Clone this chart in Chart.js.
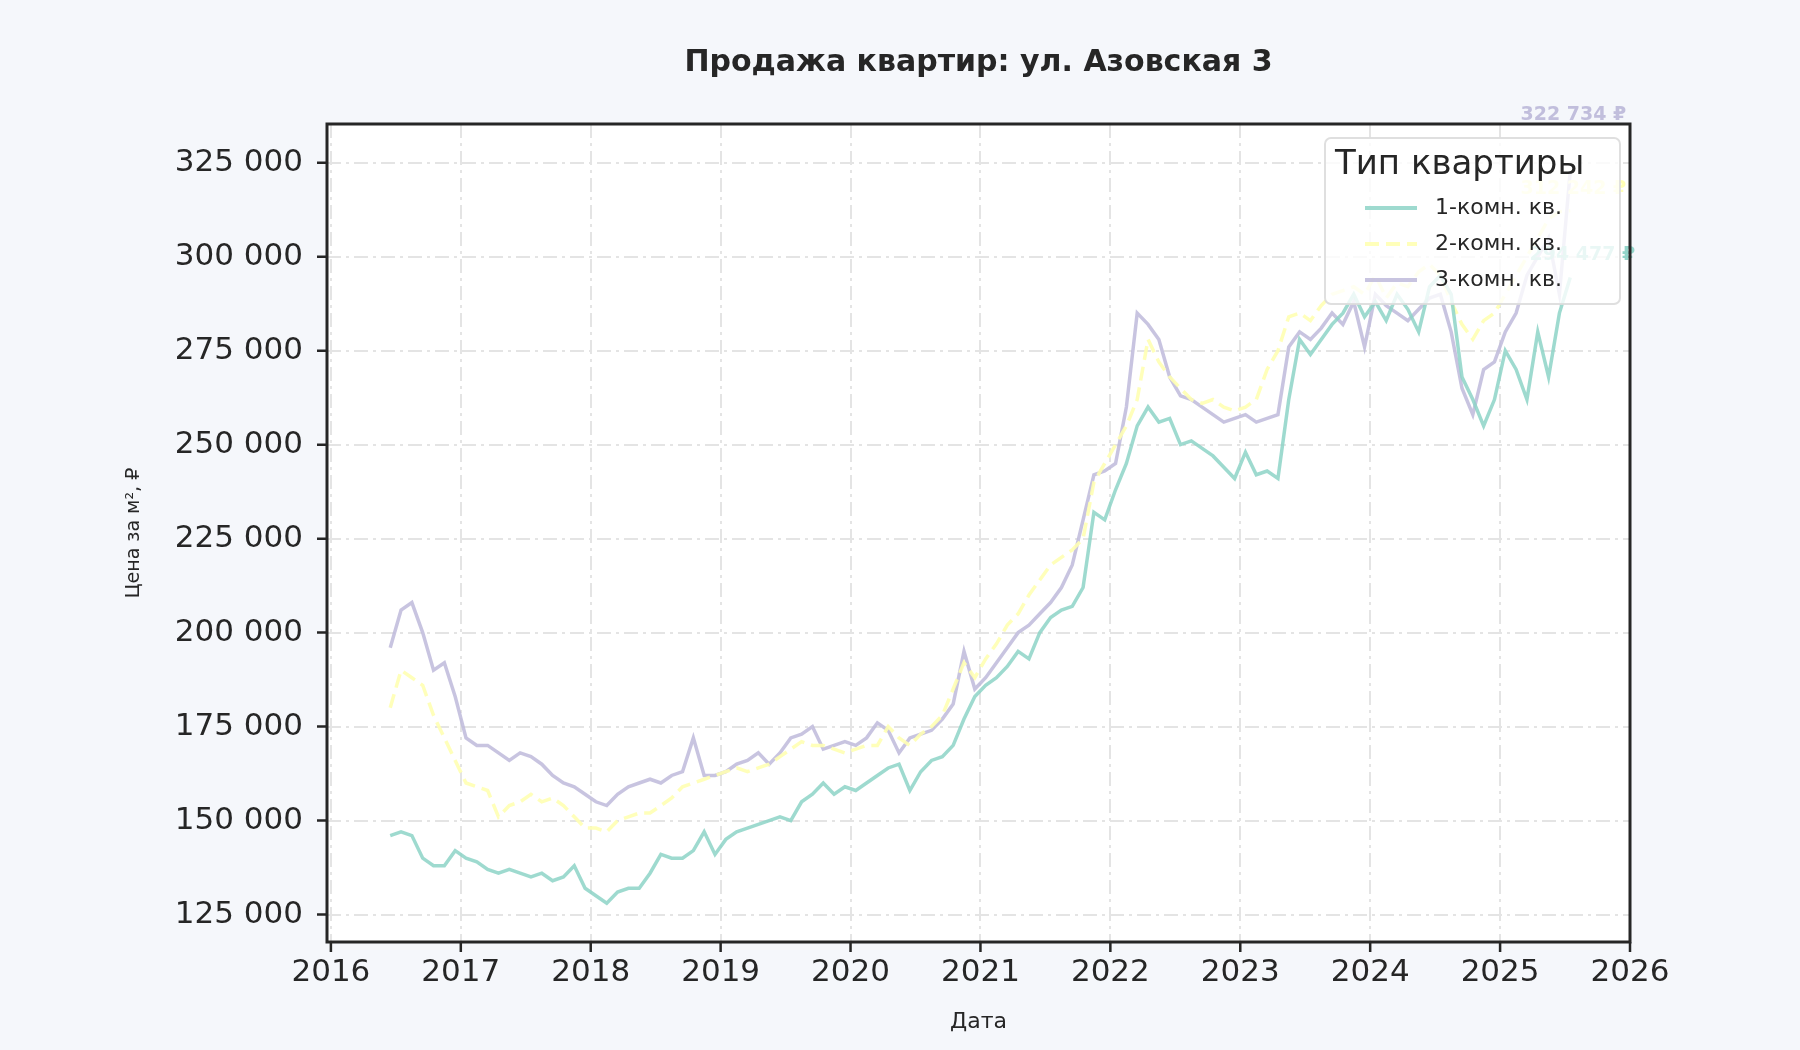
<!DOCTYPE html>
<html><head><meta charset="utf-8">
<script src="https://cdn.jsdelivr.net/npm/chart.js@4"></script>
<style>html,body{margin:0;background:#f5f7fb}#w{width:1800px;height:1050px}</style>
</head><body><div id="w"><canvas id="c"></canvas></div>
<script>
const startYear = 2016, startMonth = 6;
const seriesNames = ['1-комн. кв.', '2-комн. кв.', '3-комн. кв.'];
const room1 = [146,147,146,140,138,138,142,
140,139,137,136,137,136,135,136,134,135,138,132,
130,128,131,132,132,136,141,140,140,142,147,141,
145,147,148,149,150,151,150,155,157,160,157,159,
158,160,162,164,165,158,163,166,167,170,177,183,
186,188,191,195,193,200,204,206,207,212,232,230,
238,245,255,260,256,257,250,251,249,247,244,241,
248,242,243,241,262,278,274,278,282,285,290,284,
288,283,290,286,280,292,295,290,268,262,255,262,
275,270,262,280,268,285,294.477];
const room2 = [180,190,188,186,178,172,166,
160,159,158,151,154,155,157,155,156,154,151,148,
148,147,150,151,152,152,154,156,159,160,161,162,
163,164,163,164,165,167,169,171,170,170,169,168,
169,170,170,175,172,170,173,175,178,185,192,188,
193,197,202,205,210,214,218,220,222,225,240,245,
250,255,262,278,272,268,265,262,261,262,260,259,
260,262,270,275,284,285,283,287,290,291,292,290,
295,289,293,292,296,298,295,288,282,278,283,285,
290,295,300,305,310,312,312.242];
const room3 = [196,206,208,200,190,192,183,
172,170,170,168,166,168,167,165,162,160,159,157,
155,154,157,159,160,161,160,162,163,172,162,162,
163,165,166,168,165,168,172,173,175,169,170,171,
170,172,176,174,168,172,173,174,177,181,195,185,
188,192,196,200,202,205,208,212,218,230,242,243,
245,260,285,282,278,268,263,262,260,258,256,257,
258,256,257,258,276,280,278,281,285,282,288,276,
290,287,285,283,286,289,290,280,265,258,270,272,
280,285,295,300,305,290,322.734];
const xTicks = [2016,2017,2018,2019,2020,2021,2022,2023,2024,2025,2026];
const yTicks = [125000,150000,175000,200000,225000,250000,275000,300000,325000];
const colors = ['rgba(141,211,199,0.85)','rgba(255,255,179,0.9)','rgba(190,186,218,0.85)'];
const labelColors = ['rgba(141,211,199,0.95)','rgba(255,255,179,0.95)','rgba(190,186,218,0.95)'];

function toPts(arr){return arr.map((v,i)=>({x:startYear+(startMonth-1+i)/12+0.04,y:v*1000}));}
const fmt = v => Math.round(v).toLocaleString('ru-RU').replace(/\u00a0|\u202f/g,' ');
const FONT = '"DejaVu Sans", sans-serif';

const deco = {
  id:'deco',
  beforeDraw(ch){
    const {ctx,chartArea:a}=ch;
    ctx.save();ctx.fillStyle='#ffffff';ctx.fillRect(a.left,a.top,a.right-a.left,a.bottom-a.top);ctx.restore();
  },
  afterDraw(ch){
    const {ctx,chartArea:a,scales}=ch;
    ctx.save();
    // end labels
    ctx.font='bold 19px '+FONT;ctx.textAlign='right';ctx.textBaseline='middle';
    ch.data.datasets.forEach((d,i)=>{
      const p=d.data[d.data.length-1];
      const px=scales.x.getPixelForValue(p.x), py=scales.y.getPixelForValue(p.y);
      const ly = i===2 ? a.top-9 : py-22;
      ctx.fillStyle=labelColors[i];ctx.fillText(fmt(p.y)+' ₽',i===0?px+65:px+56,ly);
    });
    // legend
    const lx=1325,ly=138,lw=295,lh=166;
    ctx.fillStyle='rgba(255,255,255,0.8)';ctx.strokeStyle='rgba(220,220,220,0.9)';ctx.lineWidth=2;
    ctx.beginPath();ctx.roundRect(lx,ly,lw,lh,6);ctx.fill();ctx.stroke();
    ctx.fillStyle='#262626';ctx.textAlign='left';ctx.textBaseline='middle';
    ctx.font='34px '+FONT;ctx.fillText('Тип квартиры',lx+10,ly+27);
    ctx.font='22px '+FONT;
    ch.data.datasets.forEach((d,i)=>{
      const y=ly+70+i*36;
      ctx.strokeStyle=colors[i];ctx.lineWidth=4;ctx.setLineDash(i===1?[14,7]:[]);
      ctx.beginPath();ctx.moveTo(lx+40,y);ctx.lineTo(lx+92,y);ctx.stroke();
      ctx.setLineDash([]);ctx.fillStyle='#262626';ctx.fillText(d.label,lx+110,y);
    });
    // border
    ctx.strokeStyle='#262626';ctx.lineWidth=3;ctx.strokeRect(a.left,a.top,a.right-a.left,a.bottom-a.top);
    // tick marks
    ctx.lineWidth=2.5;ctx.beginPath();
    xTicks.forEach(t=>{const px=scales.x.getPixelForValue(t);ctx.moveTo(px,a.bottom);ctx.lineTo(px,a.bottom+10);});
    yTicks.forEach(t=>{const py=scales.y.getPixelForValue(t);ctx.moveTo(a.left,py);ctx.lineTo(a.left-10,py);});
    ctx.stroke();
    // title
    ctx.fillStyle='#262626';ctx.font='bold 30px '+FONT;ctx.textAlign='center';ctx.textBaseline='middle';
    ctx.fillText('Продажа квартир: ул. Азовская 3',(a.left+a.right)/2,63);
    // axis titles
    ctx.font='22px '+FONT;
    ctx.fillText('Дата',(a.left+a.right)/2,1022);
    ctx.font='19px '+FONT;
    ctx.translate(134,(a.top+a.bottom)/2);ctx.rotate(-Math.PI/2);
    ctx.fillText('Цена за м², ₽',0,0);
    ctx.restore();
  }
};

new Chart(document.getElementById('c'),{
  type:'line',
  data:{datasets:[room1,room2,room3].map((arr,i)=>({
    label:seriesNames[i],data:toPts(arr),borderColor:colors[i],borderWidth:3.5,
    borderDash:i===1?[14,7]:[],pointRadius:0,tension:0,fill:false}))},
  options:{
    responsive:true,maintainAspectRatio:false,animation:false,devicePixelRatio:1,
    layout:{padding:{left:0,right:170,top:124,bottom:0}},
    plugins:{legend:{display:false},title:{display:false},tooltip:{enabled:false}},
    scales:{
      x:{type:'linear',min:2015.97,max:2026,
        afterFit:s=>{s.height=108;},
        afterBuildTicks:s=>{s.ticks=xTicks.map(v=>({value:v}));},
        ticks:{font:{size:31,family:FONT},color:'#262626',padding:12,maxRotation:0,callback:v=>String(v)},
        grid:{color:'#e4e4e4',lineWidth:2,drawTicks:false},
        border:{display:false,dash:[14,5,3,5]}},
      y:{min:117700,max:335300,
        afterFit:s=>{s.width=327;},
        afterBuildTicks:s=>{s.ticks=yTicks.map(v=>({value:v}));},
        ticks:{font:{size:31,family:FONT},color:'#262626',padding:24,callback:v=>fmt(v)},
        grid:{color:'#e4e4e4',lineWidth:2,drawTicks:false},
        border:{display:false,dash:[14,5,3,5]}}
    }
  },
  plugins:[deco]
});
</script></body></html>
